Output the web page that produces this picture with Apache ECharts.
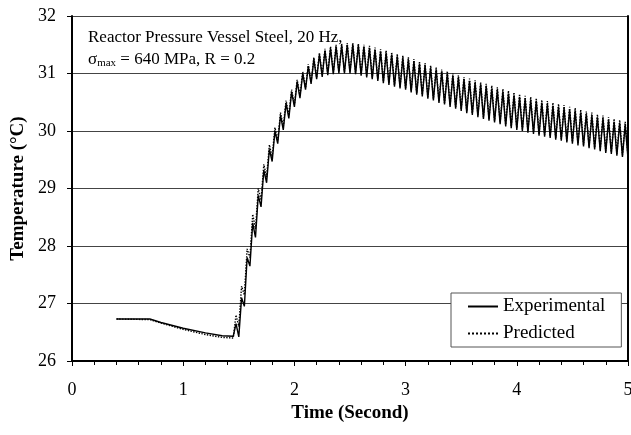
<!DOCTYPE html>
<html><head><meta charset="utf-8">
<script src="https://cdn.jsdelivr.net/npm/echarts@6.0.0/dist/echarts.min.js"></script>
<style>html,body{margin:0;padding:0;background:#fff}#c{width:631px;height:435px}</style>
</head><body><div id="c"></div>
<script>
// Time (s)
const times = [
0.40,0.70,0.80,1.00,1.20,1.35,1.45,
1.475,1.5,1.525,1.55,1.575,1.6,1.625,1.65,1.675,1.7,
1.725,1.75,1.775,1.8,1.825,1.85,1.875,1.9,1.925,1.95,
1.975,2,2.025,2.05,2.075,2.1,2.125,2.15,2.175,2.2,
2.225,2.25,2.275,2.3,2.325,2.35,2.375,2.4,2.425,2.45,
2.475,2.5,2.525,2.55,2.575,2.6,2.625,2.65,2.675,2.7,
2.725,2.75,2.775,2.8,2.825,2.85,2.875,2.9,2.925,2.95,
2.975,3,3.025,3.05,3.075,3.1,3.125,3.15,3.175,3.2,
3.225,3.25,3.275,3.3,3.325,3.35,3.375,3.4,3.425,3.45,
3.475,3.5,3.525,3.55,3.575,3.6,3.625,3.65,3.675,3.7,
3.725,3.75,3.775,3.8,3.825,3.85,3.875,3.9,3.925,3.95,
3.975,4,4.025,4.05,4.075,4.1,4.125,4.15,4.175,4.2,
4.225,4.25,4.275,4.3,4.325,4.35,4.375,4.4,4.425,4.45,
4.475,4.5,4.525,4.55,4.575,4.6,4.625,4.65,4.675,4.7,
4.725,4.75,4.775,4.8,4.825,4.85,4.875,4.9,4.925,4.95,
4.975,5
];
// Experimental temperature (°C)
const experimental = [
26.73,26.73,26.67,26.57,26.49,26.44,26.43,
26.65,26.42,27.10,26.95,27.80,27.65,28.40,28.15,28.88,28.68,
29.32,29.10,29.68,29.47,30.00,29.78,30.27,30.02,30.48,30.22,
30.68,30.42,30.86,30.57,31.00,30.72,31.13,30.82,31.25,30.90,
31.33,30.94,31.40,30.97,31.44,30.99,31.47,31.00,31.49,31.00,
31.50,31.00,31.50,30.99,31.49,30.96,31.47,30.93,31.44,30.90,
31.41,30.87,31.38,30.83,31.36,30.80,31.33,30.77,31.30,30.74,
31.27,30.72,31.24,30.67,31.21,30.63,31.17,30.60,31.14,30.56,
31.10,30.53,31.07,30.49,31.03,30.46,31.00,30.42,30.96,30.39,
30.93,30.35,30.90,30.31,30.87,30.28,30.84,30.24,30.81,30.21,
30.78,30.18,30.74,30.15,30.71,30.12,30.68,30.08,30.65,30.05,
30.62,30.02,30.59,30.00,30.56,29.97,30.54,29.95,30.52,29.92,
30.49,29.90,30.47,29.88,30.44,29.85,30.42,29.83,30.40,29.80,
30.37,29.78,30.35,29.75,30.32,29.73,30.29,29.70,30.27,29.68,
30.24,29.65,30.22,29.62,30.19,29.60,30.16,29.57,30.14,29.55,
30.11,29.52
];
// Predicted temperature (°C)
const predicted = [
26.73,26.72,26.66,26.55,26.46,26.41,26.40,
26.80,26.60,27.30,27.15,27.95,27.80,28.55,28.30,29.00,28.80,
29.42,29.20,29.76,29.55,30.06,29.84,30.32,30.08,30.53,30.27,
30.72,30.46,30.89,30.61,31.03,30.75,31.16,30.85,31.28,30.93,
31.36,30.97,31.43,31.00,31.47,31.02,31.50,31.03,31.52,31.03,
31.53,31.03,31.53,31.02,31.52,30.99,31.50,30.96,31.48,30.93,
31.45,30.90,31.42,30.86,31.40,30.83,31.37,30.80,31.34,30.77,
31.31,30.75,31.28,30.70,31.25,30.66,31.21,30.63,31.18,30.59,
31.14,30.56,31.11,30.52,31.07,30.49,31.04,30.45,31.00,30.42,
30.97,30.38,30.94,30.34,30.91,30.31,30.88,30.27,30.85,30.24,
30.82,30.21,30.79,30.18,30.76,30.15,30.73,30.11,30.70,30.08,
30.67,30.05,30.64,30.03,30.61,30.00,30.59,29.98,30.57,29.95,
30.54,29.93,30.52,29.91,30.49,29.88,30.47,29.86,30.45,29.83,
30.42,29.81,30.40,29.78,30.37,29.76,30.34,29.73,30.32,29.71,
30.29,29.68,30.27,29.65,30.24,29.63,30.21,29.60,30.19,29.58,
30.16,29.55
];
const seriesNames = ['Experimental', 'Predicted'];
const xRange = [0, 5];
const yRange = [26, 32];

const FONT = '"Liberation Serif", "Times New Roman", serif';
const chart = echarts.init(document.getElementById('c'), null, {renderer: 'canvas'});
const toPairs = vals => times.map((t, i) => [t, vals[i]]);

chart.setOption({
  animation: false,
  backgroundColor: '#fff',
  grid: {left: 72, right: 3, top: 16, bottom: 74, outerBoundsMode: 'none'},
  xAxis: {
    type: 'value', min: xRange[0], max: xRange[1], interval: 1,
    name: 'Time (Second)', nameLocation: 'middle', nameGap: 40,
    nameTextStyle: {fontFamily: FONT, fontSize: 19, fontWeight: 'bold', color: '#000'},
    axisLine: {show: true, lineStyle: {color: '#000', width: 2}},
    axisTick: {show: true, length: 5, lineStyle: {color: '#000', width: 1}},
    minorTick: {show: true, splitNumber: 5, length: 4, lineStyle: {color: '#000', width: 1}},
    axisLabel: {fontFamily: FONT, fontSize: 18, color: '#000', margin: 20},
    splitLine: {show: false}
  },
  yAxis: [{
    type: 'value', min: yRange[0], max: yRange[1], interval: 1,
    name: 'Temperature (°C)', nameLocation: 'middle', nameGap: 44,
    nameTextStyle: {fontFamily: FONT, fontSize: 19, fontWeight: 'bold', color: '#000'},
    axisLine: {show: true, lineStyle: {color: '#000', width: 2}},
    axisTick: {show: true, length: 5, lineStyle: {color: '#000', width: 1}},
    axisLabel: {fontFamily: FONT, fontSize: 18, color: '#000', margin: 16},
    splitLine: {show: true, lineStyle: {color: '#444', width: 1}}
  }, {
    type: 'value', min: yRange[0], max: yRange[1], interval: 1, position: 'right',
    axisLine: {show: true, lineStyle: {color: '#000', width: 2}},
    axisTick: {show: false}, axisLabel: {show: false}, splitLine: {show: false}
  }],
  legend: {
    data: seriesNames, orient: 'vertical', left: 451, top: 293,
    backgroundColor: '#fff', borderColor: '#555', borderWidth: 1,
    padding: [4, 16, 4, 16], itemWidth: 30, itemHeight: 14, itemGap: 8,
    itemStyle: {opacity: 0},
    textStyle: {fontFamily: FONT, fontSize: 19, color: '#000'}
  },
  graphic: [
    {type: 'text', left: 88, top: 29, z: 100,
     style: {text: 'Reactor Pressure Vessel Steel, 20 Hz,', font: '17px ' + FONT, fill: '#000'}},
    {type: 'text', left: 88, top: 51, z: 100,
     style: {text: '{a|σ}{s|max}{a| = 640 MPa, R = 0.2}', fill: '#000',
       rich: {a: {fontFamily: FONT, fontSize: 17, fill: '#000'},
              s: {fontFamily: FONT, fontSize: 11, fill: '#000', padding: [8, 0, 0, 0]}}}}
  ],
  series: [
    {name: seriesNames[1], type: 'line', data: toPairs(predicted), symbol: 'none', showSymbol: false,
     itemStyle: {color: '#000'},
     lineStyle: {color: '#000', width: 1.4, type: 'dotted'}, z: 3},
    {name: seriesNames[0], type: 'line', data: toPairs(experimental), symbol: 'none', showSymbol: false,
     itemStyle: {color: '#000'},
     lineStyle: {color: '#000', width: 1.4, type: 'solid'}, z: 4}
  ]
});
</script></body></html>
